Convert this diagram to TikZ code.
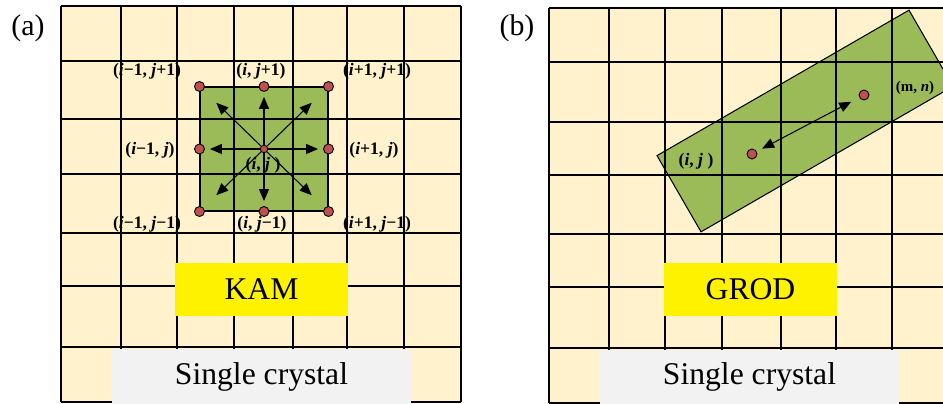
\documentclass[tikz,border=0pt]{standalone}
\usepackage{fontspec}
\setmainfont{Liberation Serif}
\usetikzlibrary{arrows.meta,positioning}
\definecolor{cream}{HTML}{FFF2CC}
\definecolor{olive}{HTML}{9BBB59}
\definecolor{dotred}{HTML}{C0504D}
\definecolor{lightgrey}{HTML}{F2F2F2}

\begin{document}
\begin{tikzpicture}[x=0.02cm, y=-0.02cm,
  gridline/.style={line width=1.1pt},
  pt/.style={circle, draw, fill=dotred, minimum size=2mm, inner sep=0pt, line width=0.5pt},
  lbl/.style={font=\fontsize{10}{10}\selectfont\bfseries, inner sep=0pt},
  tag/.style={font=\fontsize{17}{17}\selectfont, inner sep=0pt},
  marker/.style={fill=yellow, minimum width=3.46cm, minimum height=1.06cm, font=\fontsize{18}{18}\selectfont},
  base/.style={fill=lightgrey, minimum width=5.98cm, minimum height=1.1cm, font=\fontsize{18}{18}\selectfont},
  band/.style={rotate=30, minimum width=5.82cm, minimum height=1.76cm, inner sep=0pt},
  arrow/.style={-{Triangle[length=2.4mm, width=2mm]}, line width=0.6pt},
  dblarrow/.style={{Triangle[length=2.4mm, width=2mm]}-{Triangle[length=2.4mm, width=2mm]}, line width=0.6pt},
]
\useasboundingbox (0,0) rectangle (943,404);
\clip (0,0) rectangle (943,404);

% (a) KAM
\fill[cream] (61,6) rectangle (461,402);
\fill[olive] (200,87) rectangle (328,211);
\foreach \x in {61,121,177,234,293,347,404,461}
  \draw[gridline] (\x,6) -- (\x,402);
\foreach \y in {6,61,119,174,233,286,347,402}
  \draw[gridline] (61,\y) -- (461,\y);
\node[draw, line width=0.6pt, minimum width=2.56cm, minimum height=2.48cm, inner sep=0pt] (sq) at (264,149) {};

\node[pt] (nw) at (sq.north west) {};
\node[pt] (n) at (sq.north) {};
\node[pt] (ne) at (sq.north east) {};
\node[pt] (w) at (sq.west) {};
\node[pt] (e) at (sq.east) {};
\node[pt] (sw) at (sq.south west) {};
\node[pt] (s) at (sq.south) {};
\node[pt] (se) at (sq.south east) {};
\node[pt, minimum size=1.5mm] (c) at (sq.center) {};

\foreach \t in {n,s,e,w}
  \draw[arrow, shorten >=0.1cm] (c) -- (\t);
\foreach \t in {nw,ne,sw,se}
  \draw[arrow, shorten >=0.36cm] (c) -- (\t);

\node[lbl] (lnw) at (147,71) {(\textit{i}−1, \textit{j}+1)};
\node[lbl] (ln) at (261,71) {(\textit{i}, \textit{j}+1)};
\node[lbl] (lne) at (377,71) {(\textit{i}+1, \textit{j}+1)};
\node[lbl] (lw) at (150,150) {(\textit{i}−1, \textit{j})};
\node[lbl] (le) at (374,150) {(\textit{i}+1, \textit{j})};
\node[lbl] (lsw) at (147,224) {(\textit{i}−1, \textit{j}−1)};
\node[lbl] (ls) at (262,224) {(\textit{i}, \textit{j}−1)};
\node[lbl] (lse) at (377,224) {(\textit{i}+1, \textit{j}−1)};
\node[lbl] (lc) at (263,165) {(\textit{i}, \textit{j} )};

\node[marker] (kam) at (261.5,289.5) {KAM};
\node[base] (sca) at (261.5,376.5) {Single crystal};
\node[tag] (taga) at (28,28) {(a)};

% (b) GROD
\fill[cream] (549,8) rectangle (960,403);
\node[band, fill=olive] (bandfill) at (805,121) {};
\foreach \x in {549,609,665,722,781,836,892,950}
  \draw[gridline] (\x,8) -- (\x,403);
\foreach \y in {8,62,122,175,234,287,348,403}
  \draw[gridline] (549,\y) -- (960,\y);
\node[band, draw, line width=0.6pt] (strip) at (805,121) {};

\node[pt] (ij) at (752,154) {};
\node[pt] (mn) at (864,95) {};
\draw[dblarrow, shorten <=0.12cm, shorten >=0.18cm] (ij) -- (mn);

\node[lbl] (lij) at (696,161) {(\textit{i}, \textit{j} )};
\node[lbl, font=\fontsize{8.5}{8.5}\selectfont\bfseries] (lmn) at (915,88) {(m, \textit{n})};

\node[marker] (grod) at (750.5,289.5) {GROD};
\node[base] (scb) at (749.5,377) {Single crystal};
\node[tag] (tagb) at (517,28) {(b)};

\end{tikzpicture}
\end{document}
